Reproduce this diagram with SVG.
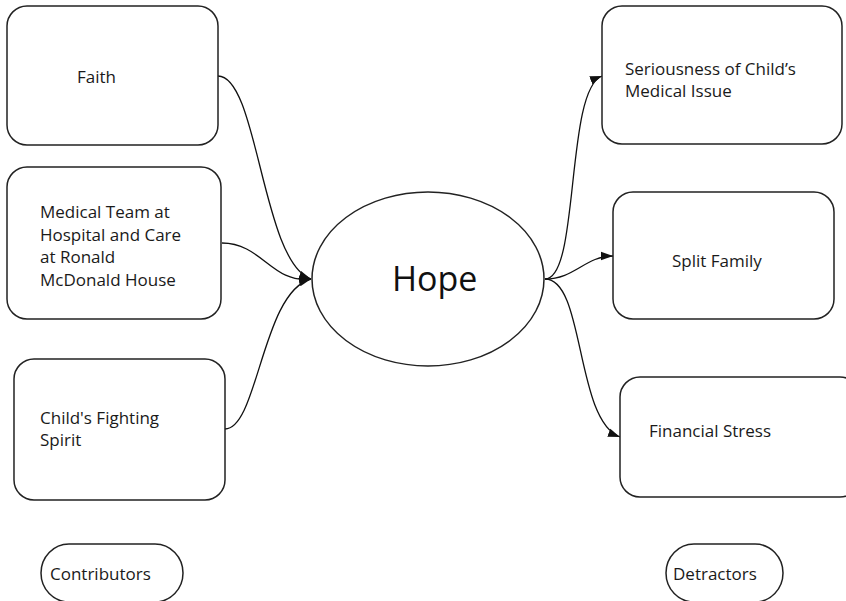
<svg xmlns="http://www.w3.org/2000/svg" width="846" height="601" viewBox="0 0 846 601">
  <defs>
    <style>
      .box { fill: #ffffff; stroke: #222222; stroke-width: 1.5; }
      .lbl { font-family: "Open Sans", "Noto Sans", sans-serif; font-size: 17px; fill: #1a1a1a; }
      .big { font-family: "Open Sans", "Noto Sans", sans-serif; font-size: 34px; fill: #111111; }
      .edge { fill: none; stroke: #111111; stroke-width: 1.3; }
    </style>
    <marker id="arrow" viewBox="0 0 12 10" refX="12" refY="5" markerWidth="12" markerHeight="10" markerUnits="userSpaceOnUse" orient="auto">
      <path d="M0,0.8 L12,5 L0,9.2 Z" fill="#111111"/>
    </marker>
  </defs>
  <rect width="846" height="601" fill="#ffffff"/>

  <g id="connectors">
    <path class="edge" marker-end="url(#arrow)" d="M218,76 C258,76 262,262 311,279"/>
    <path class="edge" marker-end="url(#arrow)" d="M222,243 C262,243 272,284 311,279"/>
    <path class="edge" marker-end="url(#arrow)" d="M225,429 C258,429 262,292 311,279"/>
    <path class="edge" marker-end="url(#arrow)" d="M545,279 C580,279 565,90 602,76"/>
    <path class="edge" marker-end="url(#arrow)" d="M545,279 C575,279 585,256 613,256"/>
    <path class="edge" marker-end="url(#arrow)" d="M545,279 C585,279 575,420 620,437"/>
  </g>

  <g id="hope">
    <ellipse class="box" cx="428" cy="279" rx="116" ry="87"/>
    <text class="big" x="392" y="291">Hope</text>
  </g>

  <g id="faith">
    <rect class="box" x="7" y="6" width="211" height="139" rx="20" ry="20"/>
    <text class="lbl" x="77" y="83">Faith</text>
  </g>

  <g id="medical-team">
    <rect class="box" x="7" y="167" width="214" height="152" rx="20" ry="20"/>
    <text class="lbl" x="40" y="218">Medical Team at</text>
    <text class="lbl" x="40" y="241">Hospital and Care</text>
    <text class="lbl" x="40" y="263">at Ronald</text>
    <text class="lbl" x="40" y="286">McDonald House</text>
  </g>

  <g id="fighting-spirit">
    <rect class="box" x="14" y="359" width="211" height="141" rx="20" ry="20"/>
    <text class="lbl" x="40" y="424">Child's Fighting</text>
    <text class="lbl" x="40" y="446">Spirit</text>
  </g>

  <g id="seriousness">
    <rect class="box" x="602" y="6" width="240" height="138" rx="20" ry="20"/>
    <text class="lbl" x="625" y="75">Seriousness of Child’s</text>
    <text class="lbl" x="625" y="97">Medical Issue</text>
  </g>

  <g id="split-family">
    <rect class="box" x="613" y="192" width="221" height="127" rx="20" ry="20"/>
    <text class="lbl" x="672" y="267">Split Family</text>
  </g>

  <g id="financial-stress">
    <rect class="box" x="620" y="377" width="240" height="120" rx="20" ry="20"/>
    <text class="lbl" x="649" y="437">Financial Stress</text>
  </g>

  <g id="contributors">
    <rect class="box" x="41" y="544" width="142" height="58" rx="28" ry="29"/>
    <text class="lbl" x="50" y="580">Contributors</text>
  </g>

  <g id="detractors">
    <rect class="box" x="666" y="544" width="117" height="58" rx="28" ry="29"/>
    <text class="lbl" x="673" y="580">Detractors</text>
  </g>
</svg>
